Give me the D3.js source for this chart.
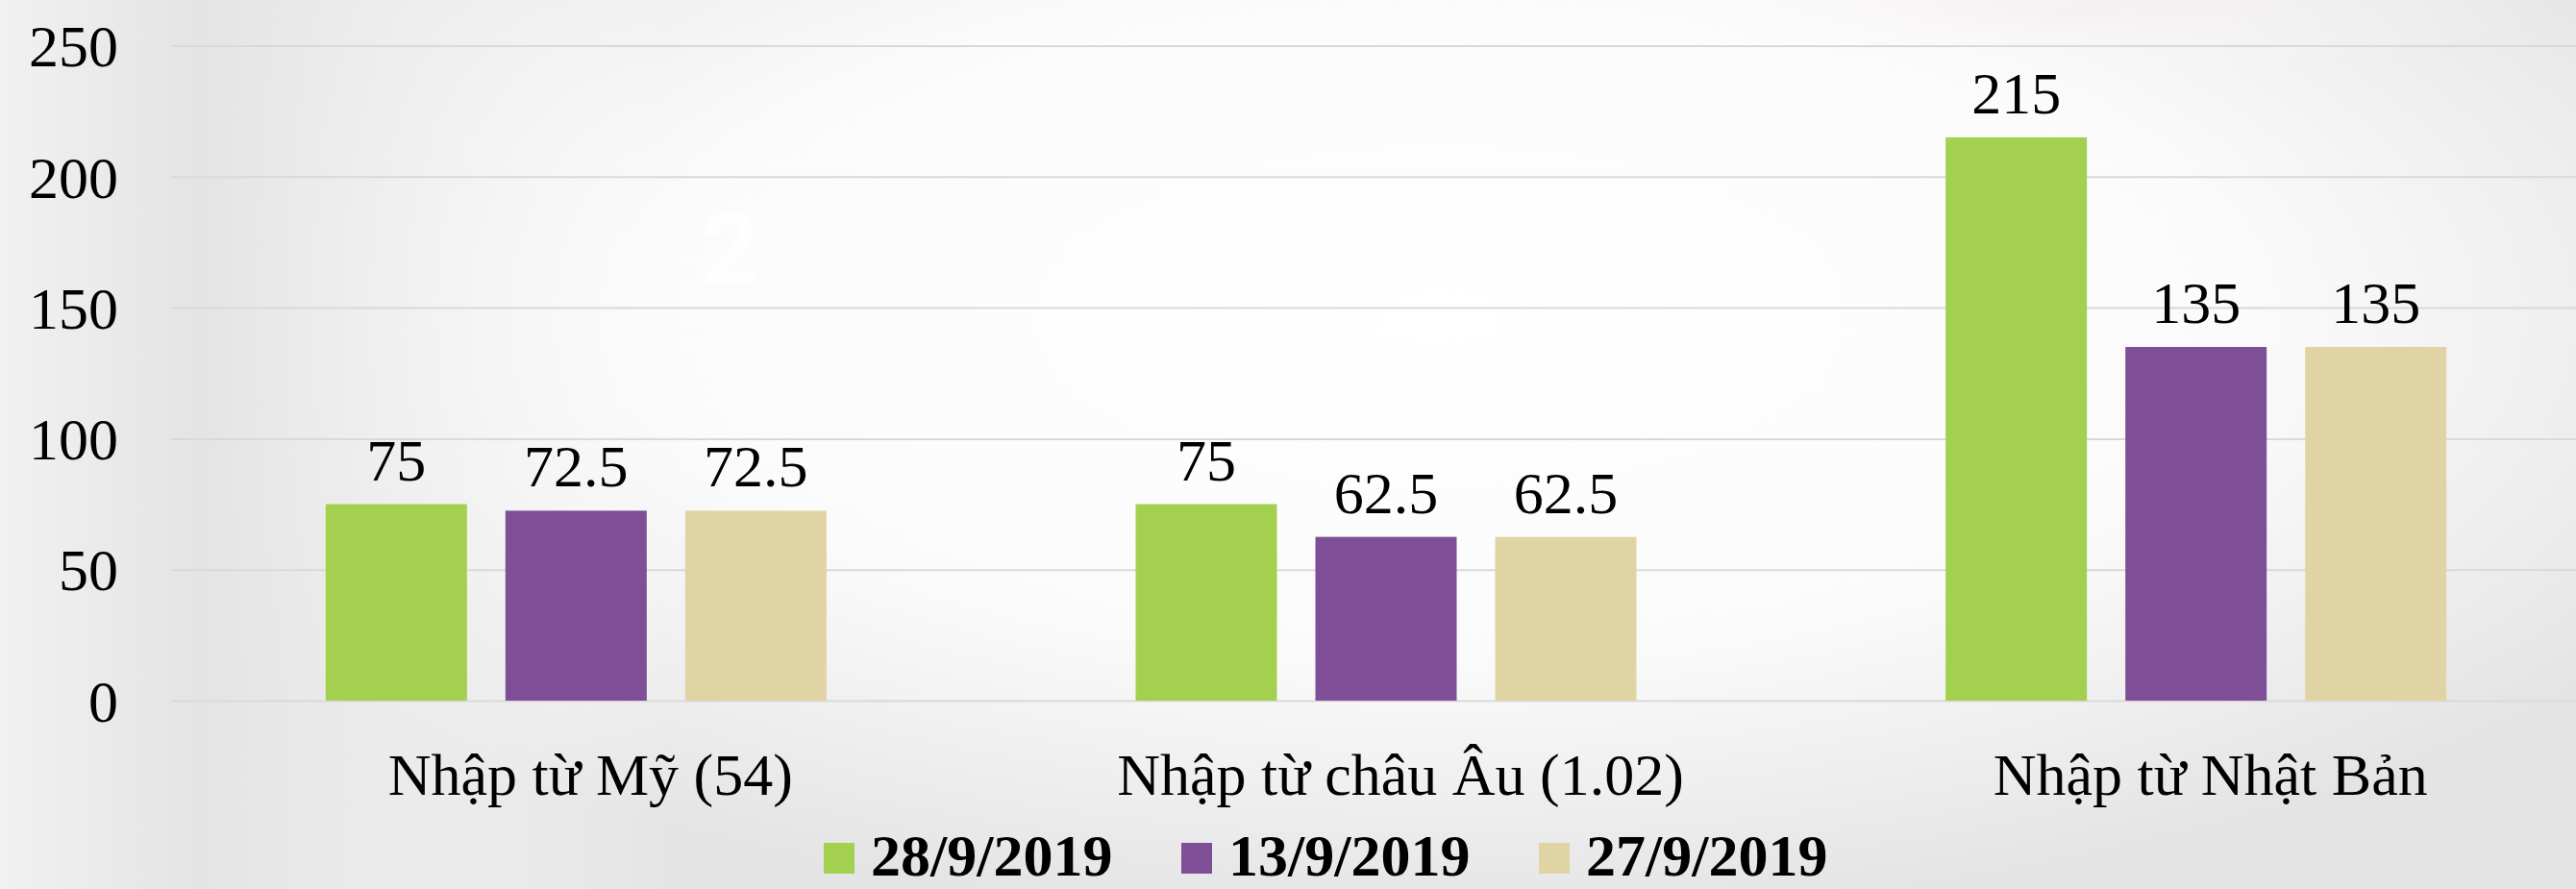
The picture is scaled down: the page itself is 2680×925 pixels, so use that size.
<!DOCTYPE html>
<html>
<head>
<meta charset="utf-8">
<script src="https://cdn.jsdelivr.net/npm/d3@7"></script>
<style>
    html, body { margin: 0; padding: 0; overflow: hidden; }
    svg { display: block; }
</style>
</head>
<body>
<div id="chart"></div>
<script>
var categories = ['Nhập từ Mỹ (54)', 'Nhập từ châu Âu (1.02)', 'Nhập từ Nhật Bản'];
var seriesNames = ['28/9/2019', '13/9/2019', '27/9/2019'];
var seriesColors = ['#a3d04f', '#7e4f96', '#e1d4a4'];
var values28 = [75, 75, 215];
var values13 = [72.5, 62.5, 135];
var values27 = [72.5, 62.5, 135];
var yTicks = [0, 50, 100, 150, 200, 250];

window.onload = start;

function start() {
    var width = 2680;
    var height = 925;
    var plotLeft = 178;
    var plotRight = 2706;   // plot runs a bit past the right edge
    var plotTop = 47.5;
    var plotBottom = 729;
    var groupWidth = 521;
    var fontFamily = '"Liberation Serif", "Times New Roman", serif';

    var svg = d3
        .select('#chart')
        .append('svg')
        .attr('width', width)
        .attr('height', height);

    // background: white centre, grey edges
    var defs = svg.append('defs');
    var radial = defs.append('radialGradient')
        .attr('id', 'bgRadial')
        .attr('gradientUnits', 'userSpaceOnUse')
        .attr('cx', 1500).attr('cy', 330).attr('r', 1500)
        .attr('gradientTransform', 'translate(1500,330) scale(1,0.42) translate(-1500,-330)');
    radial.append('stop').attr('offset', '0%').attr('stop-color', '#ffffff');
    radial.append('stop').attr('offset', '55%').attr('stop-color', '#fbfbfc');
    radial.append('stop').attr('offset', '100%').attr('stop-color', '#e4e4e5');
    var leftBand = defs.append('linearGradient')
        .attr('id', 'bgLeft')
        .attr('x1', '0').attr('x2', '1').attr('y1', '0').attr('y2', '0');
    leftBand.append('stop').attr('offset', '0%').attr('stop-color', '#f2f1f2').attr('stop-opacity', 1);
    leftBand.append('stop').attr('offset', '30%').attr('stop-color', '#e4e4e4').attr('stop-opacity', 1);
    leftBand.append('stop').attr('offset', '100%').attr('stop-color', '#ffffff').attr('stop-opacity', 0);
    var pink = defs.append('radialGradient').attr('id', 'bgPink');
    pink.append('stop').attr('offset', '0%').attr('stop-color', '#f7eaea').attr('stop-opacity', 0.45);
    pink.append('stop').attr('offset', '100%').attr('stop-color', '#ffffff').attr('stop-opacity', 0);

    svg.append('rect').attr('width', width).attr('height', height).attr('fill', 'url(#bgRadial)');
    svg.append('rect').attr('x', 0).attr('y', 0).attr('width', 700).attr('height', height).attr('fill', 'url(#bgLeft)');
    svg.append('ellipse').attr('cx', 2150).attr('cy', 10).attr('rx', 500).attr('ry', 70).attr('fill', 'url(#bgPink)');

    // faint ghost text from the slide behind
    svg.append('text')
        .attr('x', 760).attr('y', 295)
        .attr('text-anchor', 'middle')
        .attr('font-family', 'Roboto, sans-serif')
        .attr('font-weight', 'bold')
        .attr('font-size', 104)
        .attr('fill', '#ffffff')
        .attr('opacity', 0.9)
        .text('2');

    var data = categories.map(function(c, i) {
        return { cat: c, vals: [values28[i], values13[i], values27[i]] };
    });

    var x0 = d3.scaleBand().domain(categories).range([plotLeft, plotRight]).padding(0);
    var x1 = d3.scaleBand()
        .domain(seriesNames)
        .range([(x0.bandwidth() - groupWidth) / 2, (x0.bandwidth() + groupWidth) / 2])
        .paddingInner(0.214);
    var yScale = d3.scaleLinear().domain([0, 250]).range([plotBottom, plotTop]);

    // gridlines
    var yAxis = d3.axisLeft(yScale)
        .tickValues(yTicks)
        .tickSize(-(width - plotLeft))
        .tickFormat('');
    var grid = svg.append('g')
        .attr('class', 'grid')
        .attr('transform', 'translate(' + plotLeft + ',0)')
        .call(yAxis);
    grid.select('.domain').remove();
    grid.selectAll('line').attr('stroke', '#d9d9d9').attr('stroke-width', 2);

    // y tick labels
    svg.append('g')
        .selectAll('.yLabel')
        .data(yTicks)
        .enter()
        .append('text')
        .attr('class', 'yLabel')
        .attr('x', 123)
        .attr('y', function(d) { return yScale(d); })
        .attr('dy', '0.35em')
        .attr('text-anchor', 'end')
        .attr('font-family', fontFamily)
        .attr('font-size', 62)
        .attr('fill', '#000')
        .text(function(d) { return d; });

    // bars
    var groups = svg.append('g')
        .selectAll('.group')
        .data(data)
        .enter()
        .append('g')
        .attr('class', 'group')
        .attr('transform', function(d) { return 'translate(' + x0(d.cat) + ',0)'; });

    groups.selectAll('rect')
        .data(function(d) {
            return d.vals.map(function(v, i) { return { name: seriesNames[i], value: v, color: seriesColors[i] }; });
        })
        .enter()
        .append('rect')
        .attr('x', function(d) { return x1(d.name); })
        .attr('y', function(d) { return yScale(d.value); })
        .attr('width', x1.bandwidth())
        .attr('height', function(d) { return plotBottom - yScale(d.value); })
        .attr('fill', function(d) { return d.color; });

    groups.selectAll('.valueLabel')
        .data(function(d) {
            return d.vals.map(function(v, i) { return { name: seriesNames[i], value: v }; });
        })
        .enter()
        .append('text')
        .attr('class', 'valueLabel')
        .attr('x', function(d) { return x1(d.name) + x1.bandwidth() / 2; })
        .attr('y', function(d) { return yScale(d.value) - 25; })
        .attr('text-anchor', 'middle')
        .attr('font-family', fontFamily)
        .attr('font-size', 62)
        .attr('fill', '#000')
        .text(function(d) { return d.value; });

    // category labels
    svg.append('g')
        .selectAll('.catLabel')
        .data(categories)
        .enter()
        .append('text')
        .attr('class', 'catLabel')
        .attr('x', function(d) { return x0(d) + x0.bandwidth() / 2 + 15; })
        .attr('y', 827)
        .attr('text-anchor', 'middle')
        .attr('font-family', fontFamily)
        .attr('font-size', 62)
        .attr('fill', '#000')
        .text(function(d) { return d; });

    // legend at the bottom edge
    var legend = svg.append('g')
        .selectAll('.legendItem')
        .data(seriesNames)
        .enter()
        .append('g')
        .attr('class', 'legendItem')
        .attr('transform', function(d, i) { return 'translate(' + (857 + i * 372) + ',0)'; });
    legend.append('rect')
        .attr('x', 0)
        .attr('y', 877)
        .attr('width', 32)
        .attr('height', 32)
        .attr('fill', function(d, i) { return seriesColors[i]; });
    legend.append('text')
        .attr('x', 49)
        .attr('y', 911)
        .attr('font-family', fontFamily)
        .attr('font-weight', 'bold')
        .attr('font-size', 62)
        .attr('fill', '#000')
        .text(function(d) { return d; });
}
</script>
</body>
</html>
